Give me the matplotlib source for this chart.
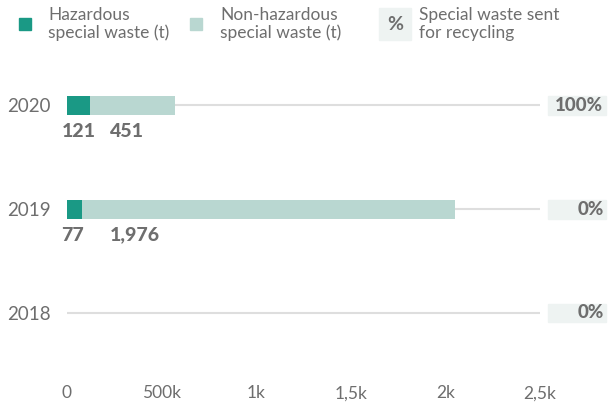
import matplotlib.pyplot as plt
from matplotlib.patches import Rectangle
from matplotlib.transforms import blended_transform_factory

years = ['2020', '2019', '2018']
hazardous = [121, 77, 0]
non_hazardous = [451, 1976, 0]
hazardous_labels = ['121', '77', '']
non_hazardous_labels = ['451', '1,976', '']
recycled_pct = ['100%', '0%', '0%']
x_ticks = [0, 500, 1000, 1500, 2000, 2500]
x_tick_labels = ['0', '500k', '1k', '1,5k', '2k', '2,5k']

dark = '#1a9985'
light = '#b9d7d1'
grey = '#6e6e6e'
box_bg = '#eef3f2'

plt.rcParams['font.family'] = ['Lato', 'DejaVu Sans']

fig = plt.figure(figsize=(6.09, 4.12), dpi=100)
ax = fig.add_axes([67 / 609, 1 - 370 / 412, 473 / 609, 320 / 412])

pos = list(range(len(years)))
for y in pos:
    ax.axhline(y, color='#dedede', lw=1.5, zorder=0)

ax.barh(pos, hazardous, height=0.18, color=dark, zorder=2)
ax.barh(pos, non_hazardous, left=hazardous, height=0.18, color=light, zorder=2)

for y, a, b in zip(pos, hazardous_labels, non_hazardous_labels):
    ax.annotate(a, (0, y + 0.25), xytext=(-4, 0), textcoords='offset points',
                ha='left', va='center', fontsize=14, fontweight='black', color=grey)
    ax.annotate(b, (0, y + 0.25), xytext=(31, 0), textcoords='offset points',
                ha='left', va='center', fontsize=14, fontweight='black', color=grey)

trans = blended_transform_factory(ax.transAxes, ax.transData)
for y, p in zip(pos, recycled_pct):
    ax.add_patch(Rectangle((1.017, y - 0.09), 0.123, 0.18, transform=trans,
                           color=box_bg, clip_on=False, zorder=1))
    ax.text(1.134, y, p, transform=trans, ha='right', va='center',
            fontsize=13.5, fontweight='black', color=grey)

ax.set_xlim(0, 2500)
ax.set_ylim(2.55, -0.535)
ax.set_xticks(x_ticks)
ax.set_xticklabels(x_tick_labels)
ax.set_yticks(pos)
ax.set_yticklabels(years)
ax.tick_params(axis='x', length=0, pad=11, labelsize=12.5, labelcolor=grey)
ax.tick_params(axis='y', length=0, pad=12, labelsize=13.5, labelcolor=grey)
for s in ax.spines.values():
    s.set_visible(False)

# legend
fig.patches.append(Rectangle((19 / 609, 1 - 30 / 412), 12 / 609, 12 / 412,
                             transform=fig.transFigure, color=dark))
fig.text(48 / 609, 1 - 24 / 412, 'Hazardous\nspecial waste (t)', ha='left', va='center',
         fontsize=12.5, color=grey, linespacing=1.1)
fig.patches.append(Rectangle((190 / 609, 1 - 30 / 412), 12 / 609, 12 / 412,
                             transform=fig.transFigure, color=light))
fig.text(220 / 609, 1 - 24 / 412, 'Non-hazardous\nspecial waste (t)', ha='left', va='center',
         fontsize=12.5, color=grey, linespacing=1.1)
fig.patches.append(Rectangle((379 / 609, 1 - 40 / 412), 32 / 609, 32 / 412,
                             transform=fig.transFigure, color=box_bg))
fig.text(395 / 609, 1 - 25 / 412, '%', ha='center', va='center',
         fontsize=14, fontweight='bold', color=grey)
fig.text(419 / 609, 1 - 24 / 412, 'Special waste sent\nfor recycling', ha='left', va='center',
         fontsize=12.5, color=grey, linespacing=1.1)

fig.savefig('out.png', dpi=100)
